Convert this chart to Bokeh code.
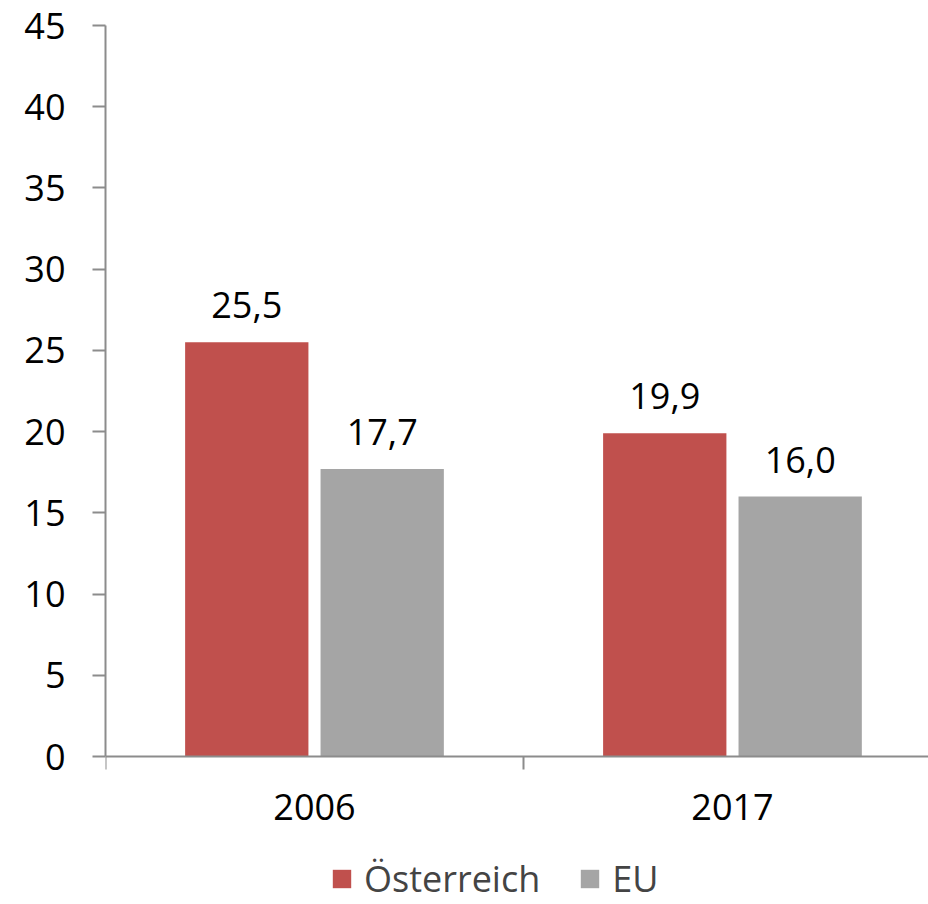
from bokeh.plotting import figure
from bokeh.models import (Range1d, FixedTicker, ColumnDataSource, Legend, LegendItem, LabelSet)
from bokeh.core.properties import value
from bokeh.embed import file_html
from bokeh.resources import INLINE

years = ["2006", "2017"]
austria = [25.5, 19.9]
eu = [17.7, 16.0]
series_names = ["Österreich", "EU"]
colors = ["#C0504D", "#A5A5A5"]
y_ticks = [0, 5, 10, 15, 20, 25, 30, 35, 40, 45]

FONT = "Open Sans"
FS = "36px"

centers = [i + 0.5 for i in range(len(years))]
offsets = [-0.162, 0.162]

p = figure(width=928, height=904, output_backend="svg", toolbar_location=None,
           x_range=Range1d(0, 1.969), y_range=Range1d(-9.11, 45),
           min_border_left=105, min_border_right=0, min_border_top=25, min_border_bottom=0)
p.outline_line_color = None
p.xgrid.grid_line_color = None
p.ygrid.grid_line_color = None

renderers = []
for vals, off, col, name in zip([austria, eu], offsets, colors, series_names):
    src = ColumnDataSource(dict(
        x=[c + off for c in centers], top=vals,
        lab=[f"{v:.1f}".replace(".", ",") for v in vals]))
    r = p.vbar(x="x", top="top", bottom=0, width=0.295, source=src, fill_color=col, line_color=None)
    renderers.append((name, r))
    p.add_layout(LabelSet(x="x", y="top", text="lab", source=src, text_align="center",
                          text_baseline="bottom", y_offset=24, text_font=value(FONT),
                          text_font_size=value(FS), text_color="black"))

axis_col = "#8c8c8c"
xa = p.xaxis[0]
xa.fixed_location = 0
xa.ticker = FixedTicker(ticks=centers, minor_ticks=[0, 1, 2])
xa.major_label_overrides = {c: y for c, y in zip(centers, years)}
xa.major_tick_out = 0
xa.major_tick_in = 0
xa.minor_tick_out = 13
xa.minor_tick_in = 0
xa.minor_tick_line_color = axis_col
xa.axis_line_color = axis_col
xa.axis_line_width = 2
xa.minor_tick_line_width = 2
xa.major_label_text_font = FONT
xa.major_label_text_font_size = FS
xa.major_label_text_color = "black"
xa.major_label_standoff = 24

ya = p.yaxis[0]
ya.bounds = (0, 45)
ya.ticker = FixedTicker(ticks=y_ticks)
ya.major_tick_out = 13
ya.major_tick_in = 0
ya.minor_tick_line_color = None
ya.major_tick_line_color = axis_col
ya.major_tick_line_width = 2
ya.axis_line_color = axis_col
ya.axis_line_width = 2
ya.major_label_text_font = FONT
ya.major_label_text_font_size = FS
ya.major_label_text_color = "black"
ya.major_label_standoff = 27

legend = Legend(items=[LegendItem(label=n, renderers=[r]) for n, r in renderers],
                orientation="horizontal", location=(225, 1),
                label_text_font=FONT, label_text_font_size=FS,
                glyph_width=23, glyph_height=23, label_standoff=11, spacing=38,
                border_line_color=None, background_fill_alpha=0, padding=0, margin=0)
p.add_layout(legend, "center")

open("out.html", "w").write(file_html(p, INLINE))
